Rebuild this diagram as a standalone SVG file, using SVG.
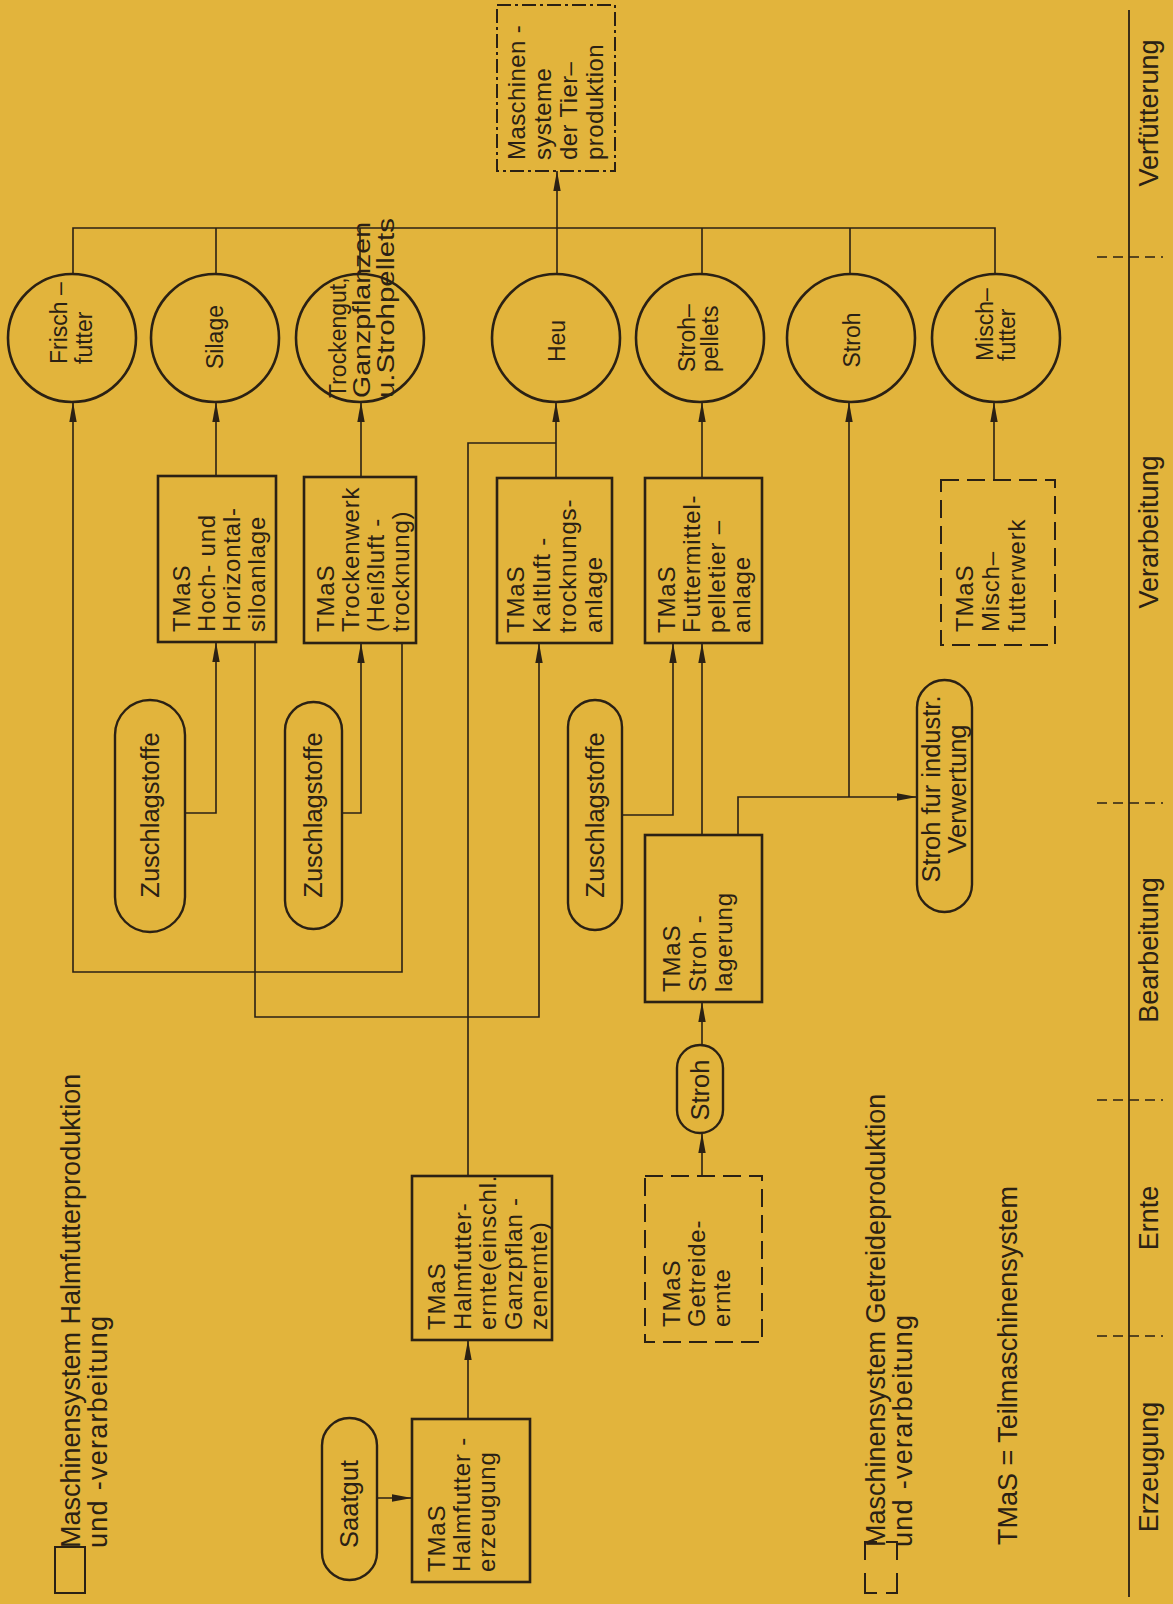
<svg xmlns="http://www.w3.org/2000/svg" width="1173" height="1604" viewBox="0 0 1173 1604">
<defs>
<marker id="ah" markerWidth="20" markerHeight="8" refX="20" refY="4" orient="auto" markerUnits="userSpaceOnUse">
<path d="M0,0.3 L20,4 L0,7.7 Z" fill="#2b2114"/>
</marker>
<style>
.bg{fill:#e2b43c}
.box{fill:none;stroke:#2b2114;stroke-width:2.6}
.dbox{fill:none;stroke:#2b2114;stroke-width:2;stroke-dasharray:18 8}
.ddbox{fill:none;stroke:#2b2114;stroke-width:2;stroke-dasharray:14 4 3 4}
.circ{fill:none;stroke:#2b2114;stroke-width:2.6}
.pill{fill:none;stroke:#2b2114;stroke-width:2.4}
.ln{fill:none;stroke:#2b2114;stroke-width:1.6}
.arr{fill:none;stroke:#2b2114;stroke-width:1.6;marker-end:url(#ah)}
.axis{fill:none;stroke:#2b2114;stroke-width:1.8}
.tick{fill:none;stroke:#2b2114;stroke-width:1.6;stroke-dasharray:10 6}
.lgd{fill:none;stroke:#2b2114;stroke-width:2}
text{font-family:"Liberation Sans",Arial,sans-serif;fill:#2b2114}
.c{font-size:23px}
.cm{font-size:23px;text-anchor:middle}
.b{font-size:24px;letter-spacing:0.8px}
.mb{font-size:24px;letter-spacing:0.4px}
.pm{font-size:25.5px;text-anchor:middle}
.lg{font-size:27px}
.st{font-size:27px;text-anchor:middle}
</style>
</defs>
<rect class="bg" x="0" y="0" width="1173" height="1604"/>

<g id="connectors">
<path class="ln" d="M73,274 V228 H995 V274"/>
<path class="ln" d="M216,228 V274"/>
<path class="ln" d="M360,228 V274"/>
<path class="ln" d="M557,228 V274"/>
<path class="ln" d="M702,228 V274"/>
<path class="ln" d="M850,228 V274"/>
<path class="arr" d="M557,228 V171"/>
<path class="arr" d="M402,643 V972 H73 V402"/>
<path class="arr" d="M216,476 V402"/>
<path class="arr" d="M361,477 V402"/>
<path class="arr" d="M556,478 V402"/>
<path class="ln" d="M468,1176 V443 H556"/>
<path class="arr" d="M702,478 V402"/>
<path class="arr" d="M849,797 V402"/>
<path class="arr" d="M994,480 V402"/>
<path class="arr" d="M185,813 H216 V642"/>
<path class="arr" d="M342,813 H361 V643"/>
<path class="arr" d="M255,642 V1017 H539 V643"/>
<path class="arr" d="M622,815 H673 V643"/>
<path class="arr" d="M702,835 V643"/>
<path class="arr" d="M738,835 V797 H917"/>
<path class="arr" d="M702,1045 V1002"/>
<path class="arr" d="M702,1176 V1133"/>
<path class="arr" d="M468,1419 V1340"/>
<path class="arr" d="M377,1498 H412"/>
</g>

<g id="n-frischfutter"><circle class="circ" cx="72" cy="338" r="64"/>
<text class="c" transform="translate(67,364) rotate(-90)"><tspan x="0" y="0">Frisch –</tspan><tspan x="0" y="25">futter</tspan></text></g>
<g id="n-silage"><circle class="circ" cx="215" cy="338" r="64"/>
<text class="cm" transform="translate(223,337) rotate(-90)">Silage</text></g>
<g id="n-trockengut"><circle class="circ" cx="360" cy="338" r="64"/>
<text class="c" transform="translate(346,398) rotate(-90)"><tspan x="0" y="0">Trockengut,</tspan><tspan x="0" y="24" textLength="176" lengthAdjust="spacingAndGlyphs">Ganzpflanzen</tspan><tspan x="0" y="48" textLength="180" lengthAdjust="spacingAndGlyphs">u.Strohpellets</tspan></text></g>
<g id="n-heu"><circle class="circ" cx="556" cy="338" r="64"/>
<text class="cm" transform="translate(565,341) rotate(-90)">Heu</text></g>
<g id="n-strohpellets"><circle class="circ" cx="700" cy="338" r="64"/>
<text class="c" transform="translate(695,372) rotate(-90)"><tspan x="0" y="0">Stroh–</tspan><tspan x="0" y="23">pellets</tspan></text></g>
<g id="n-stroh"><circle class="circ" cx="851" cy="338" r="64"/>
<text class="cm" transform="translate(860,340) rotate(-90)">Stroh</text></g>
<g id="n-mischfutter"><circle class="circ" cx="996" cy="338" r="64"/>
<text class="c" transform="translate(993,361) rotate(-90)"><tspan x="0" y="0">Misch–</tspan><tspan x="0" y="22">futter</tspan></text></g>

<g id="n-tierproduktion"><rect class="ddbox" x="497" y="5" width="118" height="166"/>
<text class="mb" transform="translate(525,160) rotate(-90)"><tspan x="0" y="0">Maschinen -</tspan><tspan x="0" y="26">systeme</tspan><tspan x="0" y="52">der Tier–</tspan><tspan x="0" y="78">produktion</tspan></text></g>

<g id="n-silo"><rect class="box" x="158" y="476" width="118" height="166"/>
<text class="b" transform="translate(190,632) rotate(-90)"><tspan x="0" y="0">TMaS</tspan><tspan x="0" y="25">Hoch- und</tspan><tspan x="0" y="50">Horizontal-</tspan><tspan x="0" y="75">siloanlage</tspan></text></g>
<g id="n-trockenwerk"><rect class="box" x="304" y="477" width="112" height="166"/>
<text class="b" transform="translate(334,632) rotate(-90)"><tspan x="0" y="0">TMaS</tspan><tspan x="0" y="25">Trockenwerk</tspan><tspan x="0" y="50">(Heißluft -</tspan><tspan x="0" y="75">trocknung)</tspan></text></g>
<g id="n-kaltluft"><rect class="box" x="497" y="478" width="115" height="165"/>
<text class="b" transform="translate(524,633) rotate(-90)"><tspan x="0" y="0">TMaS</tspan><tspan x="0" y="26">Kaltluft -</tspan><tspan x="0" y="52">trocknungs-</tspan><tspan x="0" y="78">anlage</tspan></text></g>
<g id="n-futtermittel"><rect class="box" x="645" y="478" width="117" height="165"/>
<text class="b" transform="translate(675,633) rotate(-90)"><tspan x="0" y="0">TMaS</tspan><tspan x="0" y="25">Futtermittel-</tspan><tspan x="0" y="50">pelletier –</tspan><tspan x="0" y="75">anlage</tspan></text></g>
<g id="n-mischfutterwerk"><rect class="dbox" x="941" y="480" width="114" height="165"/>
<text class="b" transform="translate(973,632) rotate(-90)"><tspan x="0" y="0">TMaS</tspan><tspan x="0" y="26">Misch–</tspan><tspan x="0" y="52">futterwerk</tspan></text></g>

<g id="n-zuschlag1"><rect class="pill" x="115" y="700" width="70" height="232" rx="35"/>
<text class="pm" transform="translate(159,815) rotate(-90)">Zuschlagstoffe</text></g>
<g id="n-zuschlag2"><rect class="pill" x="285" y="702" width="57" height="227" rx="28.5"/>
<text class="pm" transform="translate(322,815) rotate(-90)">Zuschlagstoffe</text></g>
<g id="n-zuschlag3"><rect class="pill" x="568" y="700" width="54" height="230" rx="27"/>
<text class="pm" transform="translate(604,815) rotate(-90)">Zuschlagstoffe</text></g>
<g id="n-strohindustrie"><rect class="pill" x="917" y="680" width="55" height="232" rx="27.5"/>
<text class="pm" transform="translate(940,789) rotate(-90)"><tspan x="0" y="0">Stroh fur industr.</tspan><tspan x="0" y="26">Verwertung</tspan></text></g>

<g id="n-strohlagerung"><rect class="box" x="645" y="835" width="117" height="167"/>
<text class="b" transform="translate(680,992) rotate(-90)"><tspan x="0" y="0">TMaS</tspan><tspan x="0" y="26">Stroh -</tspan><tspan x="0" y="52">lagerung</tspan></text></g>
<g id="n-strohpill"><rect class="pill" x="677" y="1045" width="46" height="88" rx="23"/>
<text class="pm" transform="translate(709,1090) rotate(-90)">Stroh</text></g>
<g id="n-halmfutterernte"><rect class="box" x="412" y="1176" width="140" height="164"/>
<text class="b" transform="translate(445,1330) rotate(-90)"><tspan x="0" y="0">TMaS</tspan><tspan x="0" y="25.5">Halmfutter-</tspan><tspan x="0" y="51">ernte(einschl.</tspan><tspan x="0" y="76.5">Ganzpflan -</tspan><tspan x="0" y="102">zenernte)</tspan></text></g>
<g id="n-getreideernte"><rect class="dbox" x="645" y="1176" width="117" height="166"/>
<text class="b" transform="translate(680,1327) rotate(-90)"><tspan x="0" y="0">TMaS</tspan><tspan x="0" y="25">Getreide-</tspan><tspan x="0" y="50">ernte</tspan></text></g>
<g id="n-halmfuttererzeugung"><rect class="box" x="412" y="1419" width="118" height="163"/>
<text class="b" transform="translate(445,1572) rotate(-90)"><tspan x="0" y="0">TMaS</tspan><tspan x="0" y="25">Halmfutter -</tspan><tspan x="0" y="50">erzeugung</tspan></text></g>
<g id="n-saatgut"><rect class="pill" x="322" y="1418" width="55" height="162" rx="27.5"/>
<text class="pm" transform="translate(358,1504) rotate(-90)">Saatgut</text></g>

<g id="legend">
<rect class="lgd" x="55" y="1547" width="30" height="46"/>
<text class="lg" transform="translate(80,1548) rotate(-90)"><tspan x="0" y="0">Maschinensystem  Halmfutterproduktion</tspan><tspan x="0" y="27" textLength="232" lengthAdjust="spacing">und -verarbeitung</tspan></text>
<path class="lgd" d="M877,1542 H865 V1560 M865,1573 V1593 H877 M886,1593 H897 V1573 M897,1560 V1542 H886"/>
<text class="lg" transform="translate(885,1547) rotate(-90)"><tspan x="0" y="0">Maschinensystem  Getreideproduktion</tspan><tspan x="0" y="27" textLength="232" lengthAdjust="spacing">und -verarbeitung</tspan></text>
<text class="lg" transform="translate(1017,1545) rotate(-90)">TMaS = Teilmaschinensystem</text>
</g>

<g id="stages">
<path class="axis" d="M1129,10 V1597"/>
<path class="tick" d="M1097,257 H1163"/>
<path class="tick" d="M1097,803 H1163"/>
<path class="tick" d="M1097,1100 H1163"/>
<path class="tick" d="M1097,1336 H1163"/>
<text class="st" transform="translate(1158,113) rotate(-90)">Verfütterung</text>
<text class="st" transform="translate(1158,532) rotate(-90)">Verarbeitung</text>
<text class="st" transform="translate(1158,950) rotate(-90)">Bearbeitung</text>
<text class="st" transform="translate(1158,1218) rotate(-90)">Ernte</text>
<text class="st" transform="translate(1158,1467) rotate(-90)">Erzeugung</text>
</g>
</svg>
